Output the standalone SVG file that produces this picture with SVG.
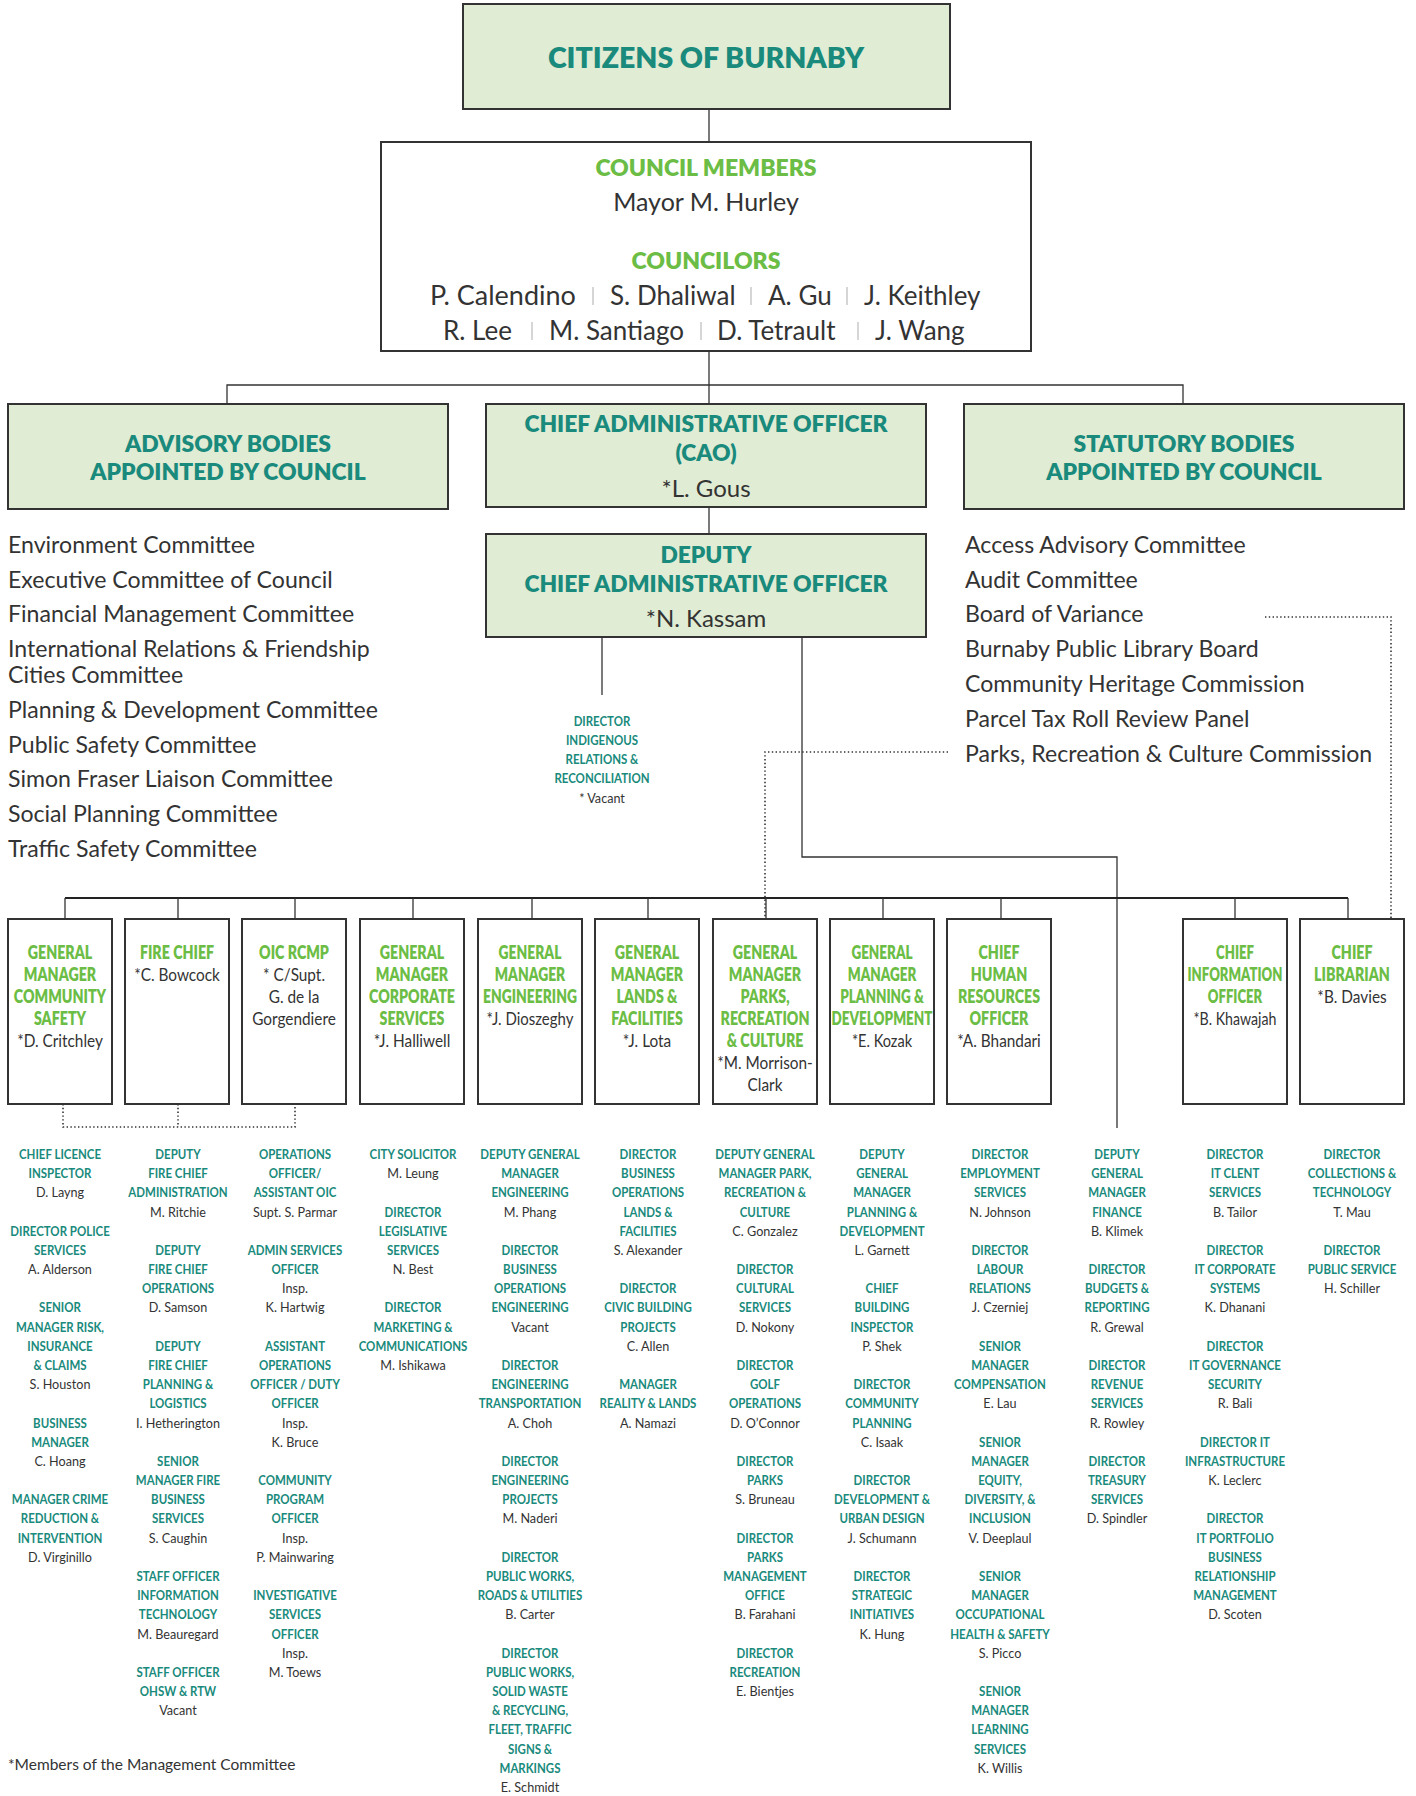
<svg xmlns="http://www.w3.org/2000/svg" width="1416" height="1796" viewBox="0 0 1416 1796">
<style>
text { font-family: Lato, "Liberation Sans", sans-serif; }
.box { fill: #e1ecd4; stroke: #333; stroke-width: 2; }
.wbox { fill: #fff; stroke: #333; stroke-width: 2; }
.ln { stroke: #333; stroke-width: 1.3; fill: none; }
.bus { stroke: #222; stroke-width: 2; fill: none; }
.dot { stroke: #333; stroke-width: 1.6; stroke-dasharray: 1.4 2.4; fill: none; }
.sep { stroke: #bbb; stroke-width: 1.2; }
.hd { fill: #198a7c; font-weight: 800; text-anchor: middle; }
.gh { fill: #6cbd45; font-weight: 800; text-anchor: middle; }
.nm { fill: #333; text-anchor: middle; }
.li { fill: #333; font-size: 23.1px; }
.bx text { font-size: 18px; }
.bx .nm { transform: scale(1.08, 1); }
.col text { font-size: 14px; }
.col .hd { font-weight: 700; }
.col .nm { transform: scale(1.1, 1); }
.cn { fill: #333; font-size: 26px; }
</style>

<g id="connectors">
  <line class="ln" x1="709" y1="109" x2="709" y2="142"/>
  <line class="ln" x1="709" y1="351" x2="709" y2="404"/>
  <polyline class="ln" points="227,403 227,385 1183,385 1183,403"/>
  <line class="ln" x1="709" y1="507" x2="709" y2="534"/>
  <line class="ln" x1="602" y1="637" x2="602" y2="695"/>
  <polyline class="ln" points="802,637 802,857 1117,857 1117,1128"/>
  <line class="bus" x1="65" y1="898" x2="1348" y2="898"/>
  <g class="ln">
    <line x1="65" y1="898" x2="65" y2="919"/>
    <line x1="178" y1="898" x2="178" y2="919"/>
    <line x1="295" y1="898" x2="295" y2="919"/>
    <line x1="413" y1="898" x2="413" y2="919"/>
    <line x1="532" y1="898" x2="532" y2="919"/>
    <line x1="648" y1="898" x2="648" y2="919"/>
    <line x1="766" y1="898" x2="766" y2="919"/>
    <line x1="883" y1="898" x2="883" y2="919"/>
    <line x1="1001" y1="898" x2="1001" y2="919"/>
    <line x1="1235" y1="898" x2="1235" y2="919"/>
    <line x1="1348" y1="898" x2="1348" y2="919"/>
  </g>
  <polyline class="dot" points="948,752 765,752 765,919"/>
  <polyline class="dot" points="1265,617 1391,617 1391,919"/>
  <polyline class="dot" points="63,1104 63,1127 295,1127 295,1104"/>
  <line class="dot" x1="178" y1="1104" x2="178" y2="1127"/>
</g>

<g id="citizens">
  <rect class="box" x="463" y="4" width="487" height="105"/>
  <text class="hd" x="706" y="68" font-size="28.5">CITIZENS OF BURNABY</text>
</g>

<g id="council">
  <rect class="wbox" x="381" y="142" width="650" height="209"/>
  <text class="gh" x="706" y="176" font-size="23">COUNCIL MEMBERS</text>
  <text class="nm" x="706" y="211" font-size="25">Mayor M. Hurley</text>
  <text class="gh" x="706" y="269" font-size="23">COUNCILORS</text>
  <text class="cn" x="430" y="305" style="font-size:27px">P. Calendino</text>
  <text class="cn" x="610" y="305">S. Dhaliwal</text>
  <text class="cn" x="768" y="305">A. Gu</text>
  <text class="cn" x="864" y="305">J. Keithley</text>
  <text class="cn" x="443" y="340">R. Lee</text>
  <text class="cn" x="549" y="340">M. Santiago</text>
  <text class="cn" x="717" y="340">D. Tetrault</text>
  <text class="cn" x="875" y="340">J. Wang</text>
  <line class="sep" x1="593" y1="287" x2="593" y2="305"/>
  <line class="sep" x1="751" y1="287" x2="751" y2="305"/>
  <line class="sep" x1="847" y1="287" x2="847" y2="305"/>
  <line class="sep" x1="532" y1="322" x2="532" y2="340"/>
  <line class="sep" x1="701" y1="322" x2="701" y2="340"/>
  <line class="sep" x1="858" y1="322" x2="858" y2="340"/>
</g>

<g id="advisory">
  <rect class="box" x="8" y="404" width="440" height="105"/>
  <text class="hd" x="228" y="452" font-size="22.9">ADVISORY BODIES</text>
  <text class="hd" x="228" y="480" font-size="22.9">APPOINTED BY COUNCIL</text>
</g>

<g id="cao">
  <rect class="box" x="486" y="404" width="440" height="103"/>
  <text class="hd" x="706" y="432" font-size="22.8">CHIEF ADMINISTRATIVE OFFICER</text>
  <text class="hd" x="706" y="461" font-size="22.8">(CAO)</text>
  <text class="nm" x="706" y="497" font-size="24">*L. Gous</text>
</g>

<g id="statutory">
  <rect class="box" x="964" y="404" width="440" height="105"/>
  <text class="hd" x="1184" y="452" font-size="22.9">STATUTORY BODIES</text>
  <text class="hd" x="1184" y="480" font-size="22.9">APPOINTED BY COUNCIL</text>
</g>

<g id="deputy-cao">
  <rect class="box" x="486" y="534" width="440" height="103"/>
  <text class="hd" x="706" y="563" font-size="22.8">DEPUTY</text>
  <text class="hd" x="706" y="592" font-size="22.8">CHIEF ADMINISTRATIVE OFFICER</text>
  <text class="nm" x="706" y="627" font-size="24">*N. Kassam</text>
</g>

<g id="advisory-list">
  <text class="li" x="8" y="553">Environment Committee</text>
  <text class="li" x="8" y="588">Executive Committee of Council</text>
  <text class="li" x="8" y="622">Financial Management Committee</text>
  <text class="li" x="8" y="657">International Relations &amp; Friendship</text>
  <text class="li" x="8" y="683">Cities Committee</text>
  <text class="li" x="8" y="718">Planning &amp; Development Committee</text>
  <text class="li" x="8" y="753">Public Safety Committee</text>
  <text class="li" x="8" y="787">Simon Fraser Liaison Committee</text>
  <text class="li" x="8" y="822">Social Planning Committee</text>
  <text class="li" x="8" y="857">Traffic Safety Committee</text>
</g>

<g id="statutory-list">
  <text class="li" x="965" y="553">Access Advisory Committee</text>
  <text class="li" x="965" y="588">Audit Committee</text>
  <text class="li" x="965" y="622">Board of Variance</text>
  <text class="li" x="965" y="657">Burnaby Public Library Board</text>
  <text class="li" x="965" y="692">Community Heritage Commission</text>
  <text class="li" x="965" y="727">Parcel Tax Roll Review Panel</text>
  <text class="li" x="965" y="762">Parks, Recreation &amp; Culture Commission</text>
</g>

<g id="director-indigenous" class="col" transform="translate(602 0) scale(0.85 1)">
  <text class="hd" x="0" y="726" style="font-size:13.5px">DIRECTOR</text>
  <text class="hd" x="0" y="745" style="font-size:13.5px">INDIGENOUS</text>
  <text class="hd" x="0" y="764" style="font-size:13.5px">RELATIONS &amp;</text>
  <text class="hd" x="0" y="783" style="font-size:13.5px">RECONCILIATION</text>
  <text class="nm" x="0" y="803" style="font-size:13.5px">* Vacant</text>
</g>

<!-- Department head boxes -->
<g id="gm-community-safety">
  <rect class="wbox" x="8" y="919" width="104" height="185"/>
  <g class="bx" transform="translate(60 0) scale(0.79 1)">
    <text class="gh" x="0" y="959">GENERAL</text>
    <text class="gh" x="0" y="981">MANAGER</text>
    <text class="gh" x="0" y="1003">COMMUNITY</text>
    <text class="gh" x="0" y="1025">SAFETY</text>
    <text class="nm" x="0" y="1047">*D. Critchley</text>
  </g>
</g>
<g id="fire-chief">
  <rect class="wbox" x="125" y="919" width="104" height="185"/>
  <g class="bx" transform="translate(177 0) scale(0.79 1)">
    <text class="gh" x="0" y="959">FIRE CHIEF</text>
    <text class="nm" x="0" y="981">*C. Bowcock</text>
  </g>
</g>
<g id="oic-rcmp">
  <rect class="wbox" x="242" y="919" width="104" height="185"/>
  <g class="bx" transform="translate(294 0) scale(0.79 1)">
    <text class="gh" x="0" y="959">OIC RCMP</text>
    <text class="nm" x="0" y="981">* C/Supt.</text>
    <text class="nm" x="0" y="1003">G. de la</text>
    <text class="nm" x="0" y="1025">Gorgendiere</text>
  </g>
</g>
<g id="gm-corporate-services">
  <rect class="wbox" x="360" y="919" width="104" height="185"/>
  <g class="bx" transform="translate(412 0) scale(0.79 1)">
    <text class="gh" x="0" y="959">GENERAL</text>
    <text class="gh" x="0" y="981">MANAGER</text>
    <text class="gh" x="0" y="1003">CORPORATE</text>
    <text class="gh" x="0" y="1025">SERVICES</text>
    <text class="nm" x="0" y="1047">*J. Halliwell</text>
  </g>
</g>
<g id="gm-engineering">
  <rect class="wbox" x="478" y="919" width="104" height="185"/>
  <g class="bx" transform="translate(530 0) scale(0.77 1)">
    <text class="gh" x="0" y="959">GENERAL</text>
    <text class="gh" x="0" y="981">MANAGER</text>
    <text class="gh" x="0" y="1003">ENGINEERING</text>
    <text class="nm" x="0" y="1025">*J. Dioszeghy</text>
  </g>
</g>
<g id="gm-lands-facilities">
  <rect class="wbox" x="595" y="919" width="104" height="185"/>
  <g class="bx" transform="translate(647 0) scale(0.79 1)">
    <text class="gh" x="0" y="959">GENERAL</text>
    <text class="gh" x="0" y="981">MANAGER</text>
    <text class="gh" x="0" y="1003">LANDS &amp;</text>
    <text class="gh" x="0" y="1025">FACILITIES</text>
    <text class="nm" x="0" y="1047">*J. Lota</text>
  </g>
</g>
<g id="gm-parks">
  <rect class="wbox" x="713" y="919" width="104" height="185"/>
  <g class="bx" transform="translate(765 0) scale(0.79 1)">
    <text class="gh" x="0" y="959">GENERAL</text>
    <text class="gh" x="0" y="981">MANAGER</text>
    <text class="gh" x="0" y="1003">PARKS,</text>
    <text class="gh" x="0" y="1025">RECREATION</text>
    <text class="gh" x="0" y="1047">&amp; CULTURE</text>
    <text class="nm" x="0" y="1069">*M. Morrison-</text>
    <text class="nm" x="0" y="1091">Clark</text>
  </g>
</g>
<g id="gm-planning">
  <rect class="wbox" x="830" y="919" width="104" height="185"/>
  <g class="bx" transform="translate(882 0) scale(0.75 1)">
    <text class="gh" x="0" y="959">GENERAL</text>
    <text class="gh" x="0" y="981">MANAGER</text>
    <text class="gh" x="0" y="1003">PLANNING &amp;</text>
    <text class="gh" x="0" y="1025">DEVELOPMENT</text>
    <text class="nm" x="0" y="1047">*E. Kozak</text>
  </g>
</g>
<g id="chief-hr">
  <rect class="wbox" x="947" y="919" width="104" height="185"/>
  <g class="bx" transform="translate(999 0) scale(0.79 1)">
    <text class="gh" x="0" y="959">CHIEF</text>
    <text class="gh" x="0" y="981">HUMAN</text>
    <text class="gh" x="0" y="1003">RESOURCES</text>
    <text class="gh" x="0" y="1025">OFFICER</text>
    <text class="nm" x="0" y="1047">*A. Bhandari</text>
  </g>
</g>
<g id="cio">
  <rect class="wbox" x="1183" y="919" width="104" height="185"/>
  <g class="bx" transform="translate(1235 0) scale(0.73 1)">
    <text class="gh" x="0" y="959">CHIEF</text>
    <text class="gh" x="0" y="981">INFORMATION</text>
    <text class="gh" x="0" y="1003">OFFICER</text>
    <text class="nm" x="0" y="1025">*B. Khawajah</text>
  </g>
</g>
<g id="chief-librarian">
  <rect class="wbox" x="1300" y="919" width="104" height="185"/>
  <g class="bx" transform="translate(1352 0) scale(0.79 1)">
    <text class="gh" x="0" y="959">CHIEF</text>
    <text class="gh" x="0" y="981">LIBRARIAN</text>
    <text class="nm" x="0" y="1003">*B. Davies</text>
  </g>
</g>

<!-- Lower columns -->
<g id="col-community-safety" class="col" transform="translate(60 0) scale(0.82 1)">
  <text class="hd" x="0" y="1159">CHIEF LICENCE</text>
  <text class="hd" x="0" y="1178">INSPECTOR</text>
  <text class="nm" x="0" y="1197">D. Layng</text>
  <text class="hd" x="0" y="1236">DIRECTOR POLICE</text>
  <text class="hd" x="0" y="1255">SERVICES</text>
  <text class="nm" x="0" y="1274">A. Alderson</text>
  <text class="hd" x="0" y="1312">SENIOR</text>
  <text class="hd" x="0" y="1332">MANAGER RISK,</text>
  <text class="hd" x="0" y="1351">INSURANCE</text>
  <text class="hd" x="0" y="1370">&amp; CLAIMS</text>
  <text class="nm" x="0" y="1389">S. Houston</text>
  <text class="hd" x="0" y="1428">BUSINESS</text>
  <text class="hd" x="0" y="1447">MANAGER</text>
  <text class="nm" x="0" y="1466">C. Hoang</text>
  <text class="hd" x="0" y="1504">MANAGER CRIME</text>
  <text class="hd" x="0" y="1523">REDUCTION &amp;</text>
  <text class="hd" x="0" y="1543">INTERVENTION</text>
  <text class="nm" x="0" y="1562">D. Virginillo</text>
</g>

<g id="col-fire" class="col" transform="translate(178 0) scale(0.82 1)">
  <text class="hd" x="0" y="1159">DEPUTY</text>
  <text class="hd" x="0" y="1178">FIRE CHIEF</text>
  <text class="hd" x="0" y="1197">ADMINISTRATION</text>
  <text class="nm" x="0" y="1217">M. Ritchie</text>
  <text class="hd" x="0" y="1255">DEPUTY</text>
  <text class="hd" x="0" y="1274">FIRE CHIEF</text>
  <text class="hd" x="0" y="1293">OPERATIONS</text>
  <text class="nm" x="0" y="1312">D. Samson</text>
  <text class="hd" x="0" y="1351">DEPUTY</text>
  <text class="hd" x="0" y="1370">FIRE CHIEF</text>
  <text class="hd" x="0" y="1389">PLANNING &amp;</text>
  <text class="hd" x="0" y="1408">LOGISTICS</text>
  <text class="nm" x="0" y="1428">I. Hetherington</text>
  <text class="hd" x="0" y="1466">SENIOR</text>
  <text class="hd" x="0" y="1485">MANAGER FIRE</text>
  <text class="hd" x="0" y="1504">BUSINESS</text>
  <text class="hd" x="0" y="1523">SERVICES</text>
  <text class="nm" x="0" y="1543">S. Caughin</text>
  <text class="hd" x="0" y="1581">STAFF OFFICER</text>
  <text class="hd" x="0" y="1600">INFORMATION</text>
  <text class="hd" x="0" y="1619">TECHNOLOGY</text>
  <text class="nm" x="0" y="1639">M. Beauregard</text>
  <text class="hd" x="0" y="1677">STAFF OFFICER</text>
  <text class="hd" x="0" y="1696">OHSW &amp; RTW</text>
  <text class="nm" x="0" y="1715">Vacant</text>
</g>

<g id="col-rcmp" class="col" transform="translate(295 0) scale(0.82 1)">
  <text class="hd" x="0" y="1159">OPERATIONS</text>
  <text class="hd" x="0" y="1178">OFFICER/</text>
  <text class="hd" x="0" y="1197">ASSISTANT OIC</text>
  <text class="nm" x="0" y="1217">Supt. S. Parmar</text>
  <text class="hd" x="0" y="1255">ADMIN SERVICES</text>
  <text class="hd" x="0" y="1274">OFFICER</text>
  <text class="nm" x="0" y="1293">Insp.</text>
  <text class="nm" x="0" y="1312">K. Hartwig</text>
  <text class="hd" x="0" y="1351">ASSISTANT</text>
  <text class="hd" x="0" y="1370">OPERATIONS</text>
  <text class="hd" x="0" y="1389">OFFICER / DUTY</text>
  <text class="hd" x="0" y="1408">OFFICER</text>
  <text class="nm" x="0" y="1428">Insp.</text>
  <text class="nm" x="0" y="1447">K. Bruce</text>
  <text class="hd" x="0" y="1485">COMMUNITY</text>
  <text class="hd" x="0" y="1504">PROGRAM</text>
  <text class="hd" x="0" y="1523">OFFICER</text>
  <text class="nm" x="0" y="1543">Insp.</text>
  <text class="nm" x="0" y="1562">P. Mainwaring</text>
  <text class="hd" x="0" y="1600">INVESTIGATIVE</text>
  <text class="hd" x="0" y="1619">SERVICES</text>
  <text class="hd" x="0" y="1639">OFFICER</text>
  <text class="nm" x="0" y="1658">Insp.</text>
  <text class="nm" x="0" y="1677">M. Toews</text>
</g>

<g id="col-corporate" class="col" transform="translate(413 0) scale(0.82 1)">
  <text class="hd" x="0" y="1159">CITY SOLICITOR</text>
  <text class="nm" x="0" y="1178">M. Leung</text>
  <text class="hd" x="0" y="1217">DIRECTOR</text>
  <text class="hd" x="0" y="1236">LEGISLATIVE</text>
  <text class="hd" x="0" y="1255">SERVICES</text>
  <text class="nm" x="0" y="1274">N. Best</text>
  <text class="hd" x="0" y="1312">DIRECTOR</text>
  <text class="hd" x="0" y="1332">MARKETING &amp;</text>
  <text class="hd" x="0" y="1351">COMMUNICATIONS</text>
  <text class="nm" x="0" y="1370">M. Ishikawa</text>
</g>

<g id="col-engineering" class="col" transform="translate(530 0) scale(0.82 1)">
  <text class="hd" x="0" y="1159">DEPUTY GENERAL</text>
  <text class="hd" x="0" y="1178">MANAGER</text>
  <text class="hd" x="0" y="1197">ENGINEERING</text>
  <text class="nm" x="0" y="1217">M. Phang</text>
  <text class="hd" x="0" y="1255">DIRECTOR</text>
  <text class="hd" x="0" y="1274">BUSINESS</text>
  <text class="hd" x="0" y="1293">OPERATIONS</text>
  <text class="hd" x="0" y="1312">ENGINEERING</text>
  <text class="nm" x="0" y="1332">Vacant</text>
  <text class="hd" x="0" y="1370">DIRECTOR</text>
  <text class="hd" x="0" y="1389">ENGINEERING</text>
  <text class="hd" x="0" y="1408">TRANSPORTATION</text>
  <text class="nm" x="0" y="1428">A. Choh</text>
  <text class="hd" x="0" y="1466">DIRECTOR</text>
  <text class="hd" x="0" y="1485">ENGINEERING</text>
  <text class="hd" x="0" y="1504">PROJECTS</text>
  <text class="nm" x="0" y="1523">M. Naderi</text>
  <text class="hd" x="0" y="1562">DIRECTOR</text>
  <text class="hd" x="0" y="1581">PUBLIC WORKS,</text>
  <text class="hd" x="0" y="1600">ROADS &amp; UTILITIES</text>
  <text class="nm" x="0" y="1619">B. Carter</text>
  <text class="hd" x="0" y="1658">DIRECTOR</text>
  <text class="hd" x="0" y="1677">PUBLIC WORKS,</text>
  <text class="hd" x="0" y="1696">SOLID WASTE</text>
  <text class="hd" x="0" y="1715">&amp; RECYCLING,</text>
  <text class="hd" x="0" y="1734">FLEET, TRAFFIC</text>
  <text class="hd" x="0" y="1754">SIGNS &amp;</text>
  <text class="hd" x="0" y="1773">MARKINGS</text>
  <text class="nm" x="0" y="1792">E. Schmidt</text>
</g>

<g id="col-lands" class="col" transform="translate(648 0) scale(0.82 1)">
  <text class="hd" x="0" y="1159">DIRECTOR</text>
  <text class="hd" x="0" y="1178">BUSINESS</text>
  <text class="hd" x="0" y="1197">OPERATIONS</text>
  <text class="hd" x="0" y="1217">LANDS &amp;</text>
  <text class="hd" x="0" y="1236">FACILITIES</text>
  <text class="nm" x="0" y="1255">S. Alexander</text>
  <text class="hd" x="0" y="1293">DIRECTOR</text>
  <text class="hd" x="0" y="1312">CIVIC BUILDING</text>
  <text class="hd" x="0" y="1332">PROJECTS</text>
  <text class="nm" x="0" y="1351">C. Allen</text>
  <text class="hd" x="0" y="1389">MANAGER</text>
  <text class="hd" x="0" y="1408">REALITY &amp; LANDS</text>
  <text class="nm" x="0" y="1428">A. Namazi</text>
</g>

<g id="col-parks" class="col" transform="translate(765 0) scale(0.82 1)">
  <text class="hd" x="0" y="1159">DEPUTY GENERAL</text>
  <text class="hd" x="0" y="1178">MANAGER PARK,</text>
  <text class="hd" x="0" y="1197">RECREATION &amp;</text>
  <text class="hd" x="0" y="1217">CULTURE</text>
  <text class="nm" x="0" y="1236">C. Gonzalez</text>
  <text class="hd" x="0" y="1274">DIRECTOR</text>
  <text class="hd" x="0" y="1293">CULTURAL</text>
  <text class="hd" x="0" y="1312">SERVICES</text>
  <text class="nm" x="0" y="1332">D. Nokony</text>
  <text class="hd" x="0" y="1370">DIRECTOR</text>
  <text class="hd" x="0" y="1389">GOLF</text>
  <text class="hd" x="0" y="1408">OPERATIONS</text>
  <text class="nm" x="0" y="1428">D. O’Connor</text>
  <text class="hd" x="0" y="1466">DIRECTOR</text>
  <text class="hd" x="0" y="1485">PARKS</text>
  <text class="nm" x="0" y="1504">S. Bruneau</text>
  <text class="hd" x="0" y="1543">DIRECTOR</text>
  <text class="hd" x="0" y="1562">PARKS</text>
  <text class="hd" x="0" y="1581">MANAGEMENT</text>
  <text class="hd" x="0" y="1600">OFFICE</text>
  <text class="nm" x="0" y="1619">B. Farahani</text>
  <text class="hd" x="0" y="1658">DIRECTOR</text>
  <text class="hd" x="0" y="1677">RECREATION</text>
  <text class="nm" x="0" y="1696">E. Bientjes</text>
</g>

<g id="col-planning" class="col" transform="translate(882 0) scale(0.82 1)">
  <text class="hd" x="0" y="1159">DEPUTY</text>
  <text class="hd" x="0" y="1178">GENERAL</text>
  <text class="hd" x="0" y="1197">MANAGER</text>
  <text class="hd" x="0" y="1217">PLANNING &amp;</text>
  <text class="hd" x="0" y="1236">DEVELOPMENT</text>
  <text class="nm" x="0" y="1255">L. Garnett</text>
  <text class="hd" x="0" y="1293">CHIEF</text>
  <text class="hd" x="0" y="1312">BUILDING</text>
  <text class="hd" x="0" y="1332">INSPECTOR</text>
  <text class="nm" x="0" y="1351">P. Shek</text>
  <text class="hd" x="0" y="1389">DIRECTOR</text>
  <text class="hd" x="0" y="1408">COMMUNITY</text>
  <text class="hd" x="0" y="1428">PLANNING</text>
  <text class="nm" x="0" y="1447">C. Isaak</text>
  <text class="hd" x="0" y="1485">DIRECTOR</text>
  <text class="hd" x="0" y="1504">DEVELOPMENT &amp;</text>
  <text class="hd" x="0" y="1523">URBAN DESIGN</text>
  <text class="nm" x="0" y="1543">J. Schumann</text>
  <text class="hd" x="0" y="1581">DIRECTOR</text>
  <text class="hd" x="0" y="1600">STRATEGIC</text>
  <text class="hd" x="0" y="1619">INITIATIVES</text>
  <text class="nm" x="0" y="1639">K. Hung</text>
</g>

<g id="col-hr" class="col" transform="translate(1000 0) scale(0.82 1)">
  <text class="hd" x="0" y="1159">DIRECTOR</text>
  <text class="hd" x="0" y="1178">EMPLOYMENT</text>
  <text class="hd" x="0" y="1197">SERVICES</text>
  <text class="nm" x="0" y="1217">N. Johnson</text>
  <text class="hd" x="0" y="1255">DIRECTOR</text>
  <text class="hd" x="0" y="1274">LABOUR</text>
  <text class="hd" x="0" y="1293">RELATIONS</text>
  <text class="nm" x="0" y="1312">J. Czerniej</text>
  <text class="hd" x="0" y="1351">SENIOR</text>
  <text class="hd" x="0" y="1370">MANAGER</text>
  <text class="hd" x="0" y="1389">COMPENSATION</text>
  <text class="nm" x="0" y="1408">E. Lau</text>
  <text class="hd" x="0" y="1447">SENIOR</text>
  <text class="hd" x="0" y="1466">MANAGER</text>
  <text class="hd" x="0" y="1485">EQUITY,</text>
  <text class="hd" x="0" y="1504">DIVERSITY, &amp;</text>
  <text class="hd" x="0" y="1523">INCLUSION</text>
  <text class="nm" x="0" y="1543">V. Deeplaul</text>
  <text class="hd" x="0" y="1581">SENIOR</text>
  <text class="hd" x="0" y="1600">MANAGER</text>
  <text class="hd" x="0" y="1619">OCCUPATIONAL</text>
  <text class="hd" x="0" y="1639">HEALTH &amp; SAFETY</text>
  <text class="nm" x="0" y="1658">S. Picco</text>
  <text class="hd" x="0" y="1696">SENIOR</text>
  <text class="hd" x="0" y="1715">MANAGER</text>
  <text class="hd" x="0" y="1734">LEARNING</text>
  <text class="hd" x="0" y="1754">SERVICES</text>
  <text class="nm" x="0" y="1773">K. Willis</text>
</g>

<g id="col-finance" class="col" transform="translate(1117 0) scale(0.82 1)">
  <text class="hd" x="0" y="1159">DEPUTY</text>
  <text class="hd" x="0" y="1178">GENERAL</text>
  <text class="hd" x="0" y="1197">MANAGER</text>
  <text class="hd" x="0" y="1217">FINANCE</text>
  <text class="nm" x="0" y="1236">B. Klimek</text>
  <text class="hd" x="0" y="1274">DIRECTOR</text>
  <text class="hd" x="0" y="1293">BUDGETS &amp;</text>
  <text class="hd" x="0" y="1312">REPORTING</text>
  <text class="nm" x="0" y="1332">R. Grewal</text>
  <text class="hd" x="0" y="1370">DIRECTOR</text>
  <text class="hd" x="0" y="1389">REVENUE</text>
  <text class="hd" x="0" y="1408">SERVICES</text>
  <text class="nm" x="0" y="1428">R. Rowley</text>
  <text class="hd" x="0" y="1466">DIRECTOR</text>
  <text class="hd" x="0" y="1485">TREASURY</text>
  <text class="hd" x="0" y="1504">SERVICES</text>
  <text class="nm" x="0" y="1523">D. Spindler</text>
</g>

<g id="col-it" class="col" transform="translate(1235 0) scale(0.82 1)">
  <text class="hd" x="0" y="1159">DIRECTOR</text>
  <text class="hd" x="0" y="1178">IT CLENT</text>
  <text class="hd" x="0" y="1197">SERVICES</text>
  <text class="nm" x="0" y="1217">B. Tailor</text>
  <text class="hd" x="0" y="1255">DIRECTOR</text>
  <text class="hd" x="0" y="1274">IT CORPORATE</text>
  <text class="hd" x="0" y="1293">SYSTEMS</text>
  <text class="nm" x="0" y="1312">K. Dhanani</text>
  <text class="hd" x="0" y="1351">DIRECTOR</text>
  <text class="hd" x="0" y="1370">IT GOVERNANCE</text>
  <text class="hd" x="0" y="1389">SECURITY</text>
  <text class="nm" x="0" y="1408">R. Bali</text>
  <text class="hd" x="0" y="1447">DIRECTOR IT</text>
  <text class="hd" x="0" y="1466">INFRASTRUCTURE</text>
  <text class="nm" x="0" y="1485">K. Leclerc</text>
  <text class="hd" x="0" y="1523">DIRECTOR</text>
  <text class="hd" x="0" y="1543">IT PORTFOLIO</text>
  <text class="hd" x="0" y="1562">BUSINESS</text>
  <text class="hd" x="0" y="1581">RELATIONSHIP</text>
  <text class="hd" x="0" y="1600">MANAGEMENT</text>
  <text class="nm" x="0" y="1619">D. Scoten</text>
</g>

<g id="col-library" class="col" transform="translate(1352 0) scale(0.82 1)">
  <text class="hd" x="0" y="1159">DIRECTOR</text>
  <text class="hd" x="0" y="1178">COLLECTIONS &amp;</text>
  <text class="hd" x="0" y="1197">TECHNOLOGY</text>
  <text class="nm" x="0" y="1217">T. Mau</text>
  <text class="hd" x="0" y="1255">DIRECTOR</text>
  <text class="hd" x="0" y="1274">PUBLIC SERVICE</text>
  <text class="nm" x="0" y="1293">H. Schiller</text>
</g>

<g id="footnote">
  <text x="8" y="1770" font-size="15.5" fill="#333">*Members of the Management Committee</text>
</g>
</svg>
